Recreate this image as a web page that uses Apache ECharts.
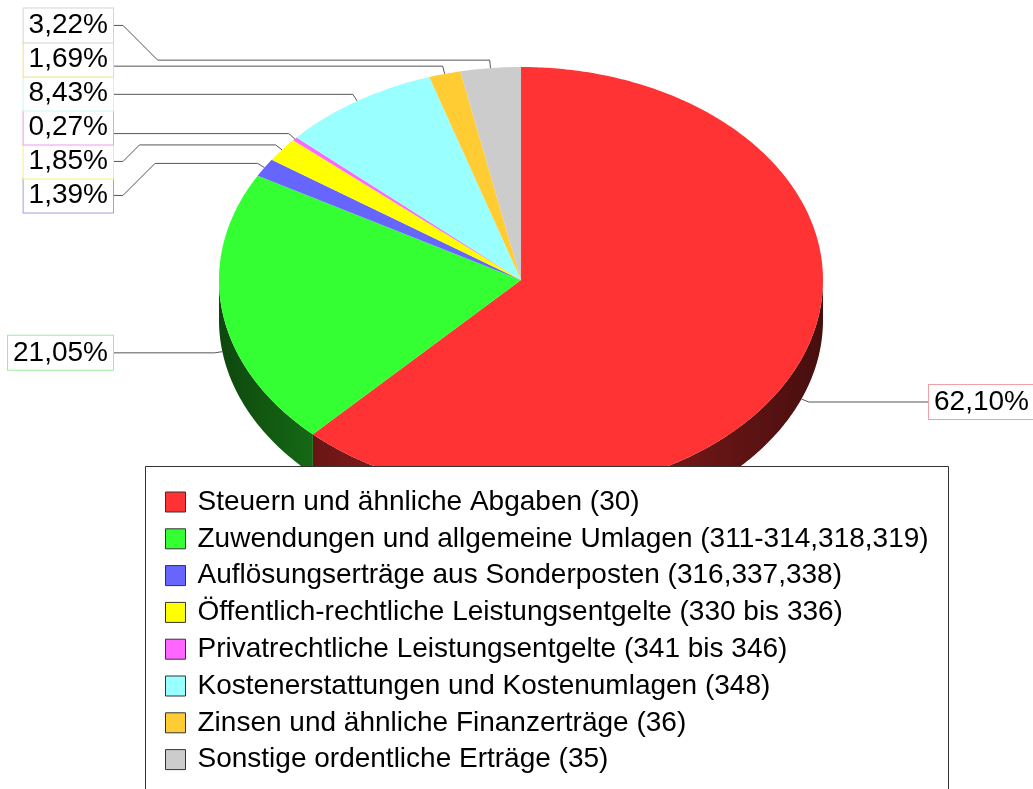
<!DOCTYPE html>
<html>
<head>
<meta charset="utf-8">
<script src="https://cdn.jsdelivr.net/npm/echarts@6/dist/echarts.min.js"></script>
<style>
html, body { margin: 0; padding: 0; background: #fff; }
#chart { width: 1033px; height: 789px; }
</style>
</head>
<body>
<div id="chart"></div>
<script>
// Kategorien (Legende)
const categories = [
    'Steuern und ähnliche Abgaben (30)',
    'Zuwendungen und allgemeine Umlagen (311-314,318,319)',
    'Auflösungserträge aus Sonderposten (316,337,338)',
    'Öffentlich-rechtliche Leistungsentgelte (330 bis 336)',
    'Privatrechtliche Leistungsentgelte (341 bis 346)',
    'Kostenerstattungen und Kostenumlagen (348)',
    'Zinsen und ähnliche Finanzerträge (36)',
    'Sonstige ordentliche Erträge (35)'
];
// Anteile in %
const shares = [62.10, 21.05, 1.39, 1.85, 0.27, 8.43, 1.69, 3.22];

const colors = ['#ff3333', '#33ff33', '#6666ff', '#ffff00', '#ff66ff', '#99ffff', '#ffcc33', '#cccccc'];
const labelBorders = ['#f2a0a8', '#99ee99', '#a0a0dd', '#f5f07a', '#ee99ee', '#ccf5f5', '#f3dc8a', '#d4d4d4'];

const FONT = '"Liberation Sans", Arial, sans-serif';
// Geometrie der Torte (Ellipse + Tiefe)
const cx = 521, cy = 280, rx = 302, ry = 213, depth = 40;
const boxH = 34, labelGap = 106;

// Start/Ende jedes Stücks in Prozent
const total = shares.reduce((a, b) => a + b, 0);
let acc = 0;
const ranges = shares.map(v => {
    const r = [acc, acc + v];
    acc += v;
    return r;
});

function toAngle(p) { return p / total * 2 * Math.PI; }
function pt(a, dy) { return [cx + rx * Math.sin(a), cy - ry * Math.cos(a) + (dy || 0)]; }
function arc(a0, a1, dy) {
    const n = Math.max(2, Math.ceil((a1 - a0) / 0.01));
    const out = [];
    for (let k = 0; k <= n; k++) out.push(pt(a0 + (a1 - a0) * k / n, dy));
    return out;
}
function shade(hex, f) {
    const c = parseInt(hex.slice(1), 16);
    const r = Math.round(((c >> 16) & 255) * f), g = Math.round(((c >> 8) & 255) * f), b = Math.round((c & 255) * f);
    return 'rgb(' + r + ',' + g + ',' + b + ')';
}

// Beschriftungen: Ankerpunkte und Stapelung
const labels = ranges.map((r, i) => {
    const mid = toAngle((r[0] + r[1]) / 2);
    const anchor = pt(mid, Math.cos(mid) < 0 ? depth : 0);
    const bx = anchor[0] + 8 * Math.sin(mid), by = anchor[1] - 8 * Math.cos(mid);
    return {
        i, anchor, bx, by,
        side: Math.sin(mid) < 0 ? 'left' : 'right',
        text: shares[i].toFixed(2).replace('.', ',') + '%'
    };
});

function layoutSide(list) {
    list.sort((a, b) => a.by - b.by);
    const clusters = list.map(l => ({ items: [l] }));
    const place = c => {
        const m = c.items.reduce((s, l) => s + l.by, 0) / c.items.length;
        c.top = m - c.items.length * boxH / 2;
    };
    clusters.forEach(place);
    let merged = true;
    while (merged) {
        merged = false;
        for (let k = 0; k < clusters.length - 1; k++) {
            const c = clusters[k], d = clusters[k + 1];
            if (c.top + c.items.length * boxH > d.top) {
                c.items = c.items.concat(d.items);
                clusters.splice(k + 1, 1);
                place(c);
                merged = true;
                break;
            }
        }
    }
    clusters.forEach(c => c.items.forEach((l, j) => { l.boxY = c.top + j * boxH + boxH / 2; }));
}
layoutSide(labels.filter(l => l.side === 'left'));
layoutSide(labels.filter(l => l.side === 'right'));

labels.forEach(l => {
    const dir = l.side === 'left' ? -1 : 1;
    const edgeX = l.side === 'left' ? cx - rx - labelGap : cx + rx + labelGap;
    l.edgeX = edgeX;
    const pts = [l.anchor, [l.bx, l.by]];
    const dy = l.boxY - l.by;
    if (Math.abs(dy) <= boxH / 2 - 3) {
        pts.push([edgeX, l.by]);
    } else {
        pts.push([edgeX - dir * (10 + Math.abs(dy)), l.by]);
        pts.push([edgeX - dir * 10, l.boxY]);
        pts.push([edgeX, l.boxY]);
    }
    l.points = pts;
});

function renderSlice(params, api) {
    const i = params.seriesIndex;
    const a0 = toAngle(api.value(0)), a1 = toAngle(api.value(1));
    const children = [];
    // Seitenfläche (nur vorne sichtbar)
    const s = Math.max(a0, Math.PI / 2), e = Math.min(a1, Math.PI * 1.5);
    if (e > s) {
        const pts = arc(s, e, 0).concat(arc(s, e, depth).reverse());
        children.push({
            type: 'polygon',
            shape: { points: pts },
            style: {
                fill: new echarts.graphic.LinearGradient(cx - rx, 0, cx + rx, 0, [
                    { offset: 0, color: shade(colors[i], 0.28) },
                    { offset: 0.35, color: shade(colors[i], 0.58) },
                    { offset: 0.65, color: shade(colors[i], 0.52) },
                    { offset: 1, color: shade(colors[i], 0.28) }
                ], true),
                stroke: null
            }
        });
    }
    // Oberfläche
    children.push({
        type: 'polygon',
        shape: { points: [[cx, cy]].concat(arc(a0, a1, 0)) },
        style: { fill: colors[i], stroke: null }
    });
    // Beschriftung
    const l = labels[i];
    children.push({
        type: 'polyline',
        shape: { points: l.points },
        style: { stroke: '#555', lineWidth: 1, fill: null }
    });
    children.push({
        type: 'text',
        style: {
            text: l.text,
            x: l.edgeX,
            y: l.boxY,
            align: l.side === 'left' ? 'right' : 'left',
            verticalAlign: 'middle',
            fontSize: 28,
            fontFamily: FONT,
            lineHeight: 30,
            fill: '#000',
            backgroundColor: '#fff',
            borderColor: labelBorders[i],
            borderWidth: 1,
            padding: [2, 5, 2, 5]
        }
    });
    return { type: 'group', children };
}

const chart = echarts.init(document.getElementById('chart'));
chart.setOption({
    animation: false,
    color: colors,
    legend: {
        data: categories,
        orient: 'vertical',
        left: 165,
        top: 488,
        padding: 0,
        itemWidth: 20,
        itemHeight: 20,
        itemGap: 8.8,
        icon: 'rect',
        selectedMode: false,
        itemStyle: { borderColor: '#333', borderWidth: 1 },
        textStyle: { fontSize: 28, fontFamily: FONT, color: '#000', lineHeight: 28, padding: [0, 0, 0, 7] },
        z: 20
    },
    graphic: [{
        type: 'rect',
        z: 10,
        shape: { x: 145.5, y: 466.5, width: 803, height: 400 },
        style: { fill: '#fff', stroke: '#333', lineWidth: 1 }
    }],
    series: categories.map((name, i) => ({
        type: 'custom',
        name,
        coordinateSystem: 'none',
        silent: true,
        itemStyle: { color: colors[i] },
        renderItem: renderSlice,
        data: [ranges[i]]
    }))
});
</script>
</body>
</html>
